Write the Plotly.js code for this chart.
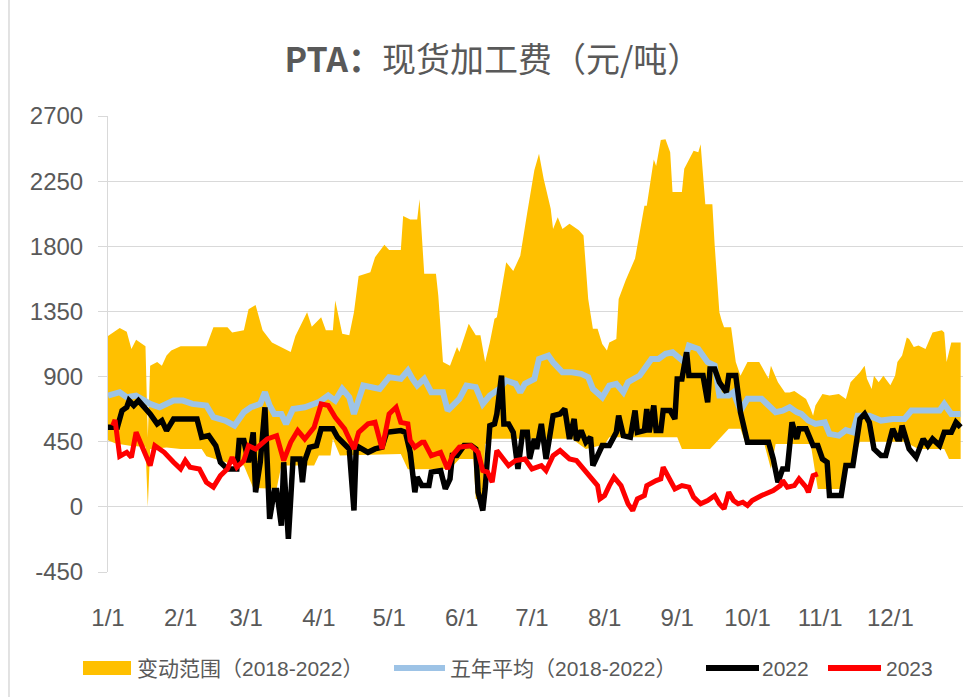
<!DOCTYPE html>
<html>
<head>
<meta charset="utf-8">
<script src="https://cdn.plot.ly/plotly-3.0.1.min.js"></script>
<style>html,body{margin:0;padding:0;background:#fff;}#chart{width:976px;height:697px;}</style>
</head>
<body>
<div id="chart"></div>
<script>
// ---- data ----
const monthTicks = ["1/1","2/1","3/1","4/1","5/1","6/1","7/1","8/1","9/1","10/1","11/1","12/1"];
const yTickValues = [-450, 0, 450, 900, 1350, 1800, 2250, 2700];
const yTickLabels = ["-450", "0", "450", "900", "1350", "1800", "2250", "2700"];
const seriesNames = ["变动范围（2018-2022）", "五年平均（2018-2022）", "2022", "2023"];

const bandUpperDates = ["1/1","1/6","1/9","1/11","1/13","1/16","1/17","1/18","1/19","1/22","1/24","1/26","1/28","2/1","2/12","2/15","2/21","2/23","2/28","3/2","3/5","3/8","3/12","3/20","3/22","3/27","3/29","4/2","4/4","4/7","4/8","4/11","4/14","4/16","4/18","4/23","4/25","4/29","5/1","5/6","5/7","5/10","5/13","5/14","5/16","5/21","5/22","5/24","5/27","5/30","5/31","6/4","6/7","6/9","6/11","6/13","6/15","6/16","6/20","6/23","6/26","6/29","7/2","7/4","7/6","7/9","7/10","7/12","7/14","7/17","7/21","7/23","7/25","7/27","7/29","7/31","8/2","8/3","8/6","8/7","8/10","8/14","8/18","8/19","8/22","8/23","8/25","8/27","8/29","8/30","9/3","9/4","9/8","9/10","9/11","9/13","9/16","9/17","9/19","9/20","9/21","9/24","9/26","9/28","10/1","10/6","10/10","10/11","10/14","10/17","10/19","10/21","10/23","10/26","10/28","10/29","10/30","11/2","11/5","11/9","11/12","11/14","11/18","11/20","11/21","11/23","11/24","11/26","11/28","12/1","12/3","12/4","12/6","12/8","12/9","12/11","12/13","12/16","12/19","12/23","12/24","12/25","12/27","12/31"];
const bandUpper = [1180,1235,1210,1090,1155,1125,1110,480,975,1000,975,1045,1080,1110,1110,1240,1240,1205,1220,1365,1395,1220,1135,1070,1180,1345,1245,1310,1220,1220,1425,1195,1185,1345,1595,1620,1725,1810,1775,1775,2010,1985,1985,2125,1610,1610,1460,1000,975,1105,1070,1265,1185,1185,1000,1135,1300,1310,1690,1630,1735,2035,2325,2440,2265,2060,1920,2000,1920,1955,1910,1875,1435,1230,1230,1125,1080,1135,1160,1435,1565,1715,2080,2080,2400,2355,2535,2540,2450,2175,2175,2335,2460,2450,2505,2090,2090,1805,1345,1285,1240,1240,1000,905,1000,1000,885,975,860,790,790,800,780,745,675,630,700,780,770,780,745,860,930,975,885,815,905,860,905,840,905,1000,1045,1170,1160,1105,1115,1090,1205,1220,1205,1000,1135,1135];

const bandLowerDates = ["1/1","1/4","1/7","1/11","1/17","1/18","1/19","1/26","2/1","2/10","2/12","2/22","2/28","3/4","3/14","3/16","3/30","4/1","4/6","4/7","4/10","5/6","5/9","5/27","5/31","6/6","6/7","6/10","6/11","6/14","7/18","7/24","8/1","8/3","9/1","9/3","9/15","9/18","9/23","9/28","9/30","10/8","10/11","10/13","10/28","10/31","11/10","11/12","11/15","11/18","12/7","12/13","12/24","12/26","12/31"];
const bandLower = [460,440,430,420,415,0,400,410,400,400,350,300,285,130,125,285,285,355,355,470,355,365,260,262,331,331,55,55,435,470,470,400,430,480,480,400,400,450,540,540,446,446,262,435,435,124,124,262,300,449,449,400,400,331,331];

const avgDates = ["1/1","1/6","1/9","1/13","1/19","1/23","1/29","2/2","2/6","2/12","2/15","2/20","2/24","2/28","3/3","3/7","3/9","3/11","3/13","3/16","3/18","3/21","3/26","4/1","4/5","4/8","4/11","4/14","4/16","4/20","4/27","4/29","5/1","5/6","5/9","5/11","5/13","5/16","5/19","5/24","5/26","5/31","6/3","6/7","6/10","6/13","6/17","6/20","6/24","6/26","6/28","7/2","7/4","7/8","7/10","7/14","7/18","7/22","7/25","7/27","7/29","7/31","8/3","8/6","8/9","8/11","8/16","8/18","8/21","8/24","8/27","8/30","9/1","9/4","9/6","9/10","9/14","9/17","9/19","9/23","9/25","9/28","10/1","10/7","10/10","10/13","10/16","10/19","10/22","10/24","10/27","10/30","11/3","11/5","11/9","11/12","11/15","11/17","11/22","11/27","12/2","12/7","12/10","12/18","12/22","12/24","12/27","12/31"];
const avgValues = [769,792,757,769,711,688,734,734,711,700,619,596,561,654,688,711,792,700,642,642,573,676,688,723,769,734,815,757,642,838,815,850,896,884,942,884,838,884,792,792,665,746,838,827,711,769,815,873,850,792,850,884,1022,1045,999,930,930,919,896,815,792,757,838,850,792,861,907,953,1022,1022,1057,1068,1045,999,1114,1091,999,976,769,769,792,665,746,746,700,654,665,688,654,642,596,573,584,504,492,530,515,630,630,596,607,607,665,665,665,711,642,642];

const y2022Dates = ["1/1","1/5","1/7","1/9","1/10","1/12","1/14","1/16","1/19","1/22","1/24","1/26","1/28","1/29","2/8","2/10","2/13","2/16","2/18","2/21","2/25","2/26","2/28","3/2","3/4","3/5","3/7","3/9","3/11","3/13","3/14","3/16","3/17","3/19","3/21","3/24","3/25","3/26","3/28","3/31","4/2","4/7","4/9","4/11","4/12","4/14","4/16","4/17","4/22","4/25","4/28","4/30","5/6","5/8","5/10","5/12","5/13","5/15","5/18","5/19","5/23","5/25","5/27","5/28","5/30","6/2","6/5","6/7","6/8","6/10","6/11","6/13","6/15","6/16","6/18","6/19","6/21","6/23","6/25","6/27","6/29","6/30","7/2","7/3","7/5","7/7","7/10","7/13","7/15","7/17","7/19","7/20","7/22","7/24","7/26","7/27","7/29","7/31","8/3","8/6","8/7","8/9","8/12","8/14","8/15","8/18","8/19","8/20","8/22","8/23","8/25","8/26","8/29","8/31","9/1","9/3","9/5","9/6","9/12","9/14","9/15","9/17","9/19","9/22","9/23","9/26","9/28","10/1","10/10","10/12","10/14","10/16","10/18","10/20","10/22","10/23","10/26","10/28","10/29","10/31","11/2","11/4","11/5","11/10","11/12","11/15","11/18","11/20","11/22","11/24","11/27","11/29","12/2","12/4","12/5","12/6","12/9","12/12","12/14","12/15","12/17","12/19","12/22","12/24","12/27","12/29","12/31"];
const y2022Values = [550,550,665,688,734,700,734,700,642,573,596,527,573,607,607,481,492,423,308,262,262,458,458,308,515,101,308,688,-83,113,113,-129,308,-221,331,331,170,320,412,423,539,539,481,446,423,400,-25,423,377,400,412,515,527,515,377,101,205,147,147,240,251,124,193,354,354,423,423,400,101,-25,124,561,573,642,907,573,573,515,262,515,515,331,469,400,573,331,630,642,676,469,607,458,527,446,481,285,354,423,423,515,630,492,481,665,515,527,676,515,700,527,527,665,665,607,884,884,1068,907,907,723,953,953,861,792,907,907,654,446,446,331,170,262,262,584,469,539,539,469,423,423,331,308,78,78,285,285,607,642,584,400,354,354,539,469,469,561,400,343,446,469,423,469,423,515,515,584,550];

const y2023Dates = ["1/3","1/4","1/6","1/9","1/11","1/13","1/16","1/19","1/21","1/25","1/29","2/1","2/3","2/5","2/9","2/12","2/15","2/18","2/21","2/23","2/25","2/28","3/2","3/5","3/10","3/14","3/17","3/20","3/23","3/26","3/30","4/2","4/5","4/8","4/12","4/16","4/18","4/22","4/25","4/28","4/30","5/1","5/4","5/6","5/9","5/10","5/12","5/15","5/16","5/19","5/23","5/26","5/28","5/31","6/5","6/8","6/10","6/12","6/14","6/16","6/21","6/24","6/28","7/1","7/5","7/7","7/10","7/13","7/17","7/20","7/23","7/26","7/29","7/30","8/1","8/3","8/5","8/8","8/11","8/13","8/15","8/18","8/19","8/23","8/25","8/26","8/28","8/31","9/3","9/6","9/8","9/11","9/14","9/17","9/19","9/21","9/23","9/25","9/27","9/29","10/1","10/3","10/7","10/12","10/15","10/16","10/18","10/21","10/23","10/26","10/27","10/29","10/31"];
const y2023Values = [560,600,350,377,343,515,400,285,423,377,308,262,320,274,262,170,136,216,262,343,274,320,423,400,469,492,320,446,527,469,550,711,700,619,539,400,515,573,584,400,561,642,688,584,573,458,412,446,446,354,377,262,354,412,423,377,251,240,170,389,285,320,331,262,285,251,354,389,331,320,262,205,147,55,78,147,205,147,21,-25,55,78,147,182,193,274,216,124,147,136,67,21,44,78,21,-14,101,44,21,32,9,44,78,113,147,182,136,147,193,136,101,216,228];

// ---- helpers ----
const YEAR = 2022;
function toISO(md) {
  const [m, d] = md.split("/").map(Number);
  return YEAR + "-" + String(m).padStart(2, "0") + "-" + String(d).padStart(2, "0");
}
const tickVals = monthTicks.map(toISO);
const xRange = [toISO("1/1"), (YEAR + 1) + "-01-01"];

const COLORS = { band: "#FFC000", avg: "#9DC3E6", y2022: "#000000", y2023: "#FF0000" };
const FONT = "Liberation Sans, Noto Sans CJK SC, sans-serif";
const GRID = "#D9D9D9";
const TXT = "#595959";

const traces = [
  { x: bandLowerDates.map(toISO), y: bandLower, type: "scatter", mode: "lines",
    line: { width: 0, color: "rgba(0,0,0,0)" }, showlegend: false, hoverinfo: "skip" },
  { x: bandUpperDates.map(toISO), y: bandUpper, type: "scatter", mode: "lines",
    fill: "tonexty", fillcolor: COLORS.band, line: { width: 0, color: COLORS.band },
    name: seriesNames[0] },
  { x: avgDates.map(toISO), y: avgValues, type: "scatter", mode: "lines",
    line: { color: COLORS.avg, width: 6 }, name: seriesNames[1] },
  { x: y2022Dates.map(toISO), y: y2022Values, type: "scatter", mode: "lines",
    line: { color: COLORS.y2022, width: 5.5 }, name: seriesNames[2] },
  { x: y2023Dates.map(toISO), y: y2023Values, type: "scatter", mode: "lines",
    line: { color: COLORS.y2023, width: 5 }, name: seriesNames[3] }
];

// manual legend (paper coordinates)
const px2x = p => (p - 108) / 855;
const px2y = p => (572 - p) / 456;
const legY = px2y(668);
const legendShapes = [
  { type: "rect", xref: "paper", yref: "paper", x0: px2x(83), x1: px2x(131), y0: px2y(675), y1: px2y(661),
    fillcolor: COLORS.band, line: { width: 0 } },
  { type: "line", xref: "paper", yref: "paper", x0: px2x(394), x1: px2x(445), y0: legY, y1: legY,
    line: { color: COLORS.avg, width: 6 } },
  { type: "line", xref: "paper", yref: "paper", x0: px2x(706), x1: px2x(759), y0: legY, y1: legY,
    line: { color: COLORS.y2022, width: 6 } },
  { type: "line", xref: "paper", yref: "paper", x0: px2x(828), x1: px2x(881), y0: legY, y1: legY,
    line: { color: COLORS.y2023, width: 6 } }
];
const legendTextX = [135, 448, 760, 884];
const legendAnnotations = seriesNames.map((t, i) => ({
  text: t, xref: "paper", yref: "paper", x: px2x(legendTextX[i]), y: legY,
  xanchor: "left", yanchor: "middle", showarrow: false,
  font: { size: 21, color: TXT, family: FONT }
}));

const layout = {
  width: 976, height: 697,
  paper_bgcolor: "#ffffff", plot_bgcolor: "#ffffff",
  margin: { l: 108, r: 13, t: 116, b: 125 },
  font: { family: FONT, color: TXT, size: 24 },
  title: {
    text: "<b>PTA：</b>现货加工费（元/吨）",
    font: { family: "Noto Sans CJK SC, Liberation Sans, sans-serif", size: 34, color: TXT },
    x: 0.505, xanchor: "center", xref: "container", y: 0.914, yanchor: "middle", yref: "container"
  },
  xaxis: {
    type: "date", range: xRange, tickvals: tickVals, ticktext: monthTicks,
    showgrid: false, zeroline: false, showline: false,
    ticks: "outside", ticklen: 24, tickcolor: "rgba(0,0,0,0)",
    tickfont: { size: 24, color: TXT, family: FONT }
  },
  xaxis2: {
    type: "date", range: xRange, overlaying: "x", anchor: "free",
    position: 450 / 3150, side: "bottom",
    tickvals: tickVals.concat([xRange[1]]), showticklabels: false,
    ticks: "outside", ticklen: 7, tickcolor: GRID, tickwidth: 1,
    showgrid: false, zeroline: false, showline: false
  },
  yaxis: {
    range: [-450, 2700], tickvals: yTickValues, ticktext: yTickLabels,
    showgrid: true, gridcolor: GRID, gridwidth: 1, zeroline: false,
    showline: true, linecolor: GRID, linewidth: 1,
    ticks: "outside", ticklen: 9, tickcolor: GRID,
    ticklabelstandoff: 10,
    tickfont: { size: 24, color: TXT, family: FONT }
  },
  showlegend: false,
  shapes: [
    { type: "line", xref: "paper", yref: "paper", x0: -0.1158, x1: -0.1158, y0: -0.28, y1: 1.26,
      line: { color: GRID, width: 1.5 } }
  ].concat(legendShapes),
  annotations: legendAnnotations
};

Plotly.newPlot("chart", traces, layout, { displayModeBar: false, staticPlot: true });
</script>
</body>
</html>
